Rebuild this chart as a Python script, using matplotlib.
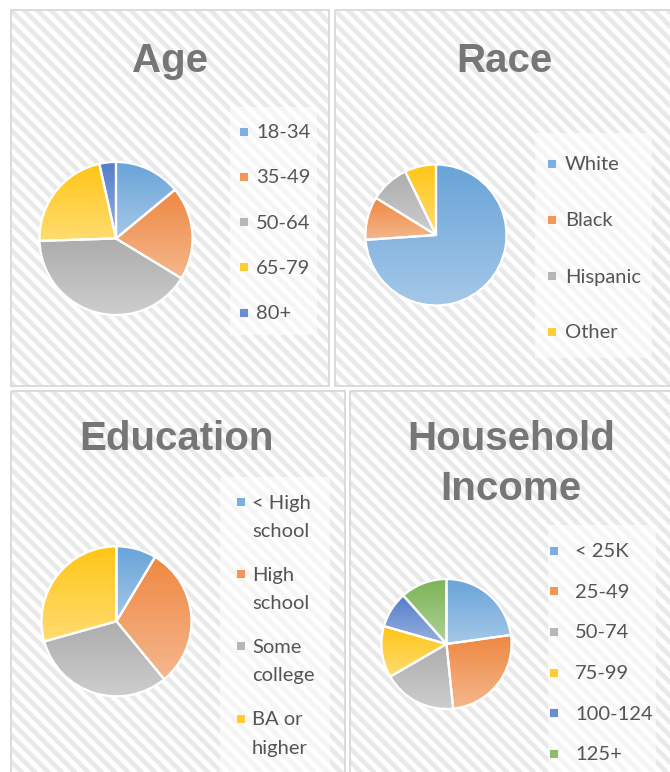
import numpy as np
import matplotlib
matplotlib.use('Agg')
import matplotlib.pyplot as plt
from matplotlib.patches import Rectangle
from matplotlib.colors import LinearSegmentedColormap, to_rgb

# data (percent)
age_labels = ["18-34", "35-49", "50-64", "65-79", "80+"]
age_values = [14, 19.7, 40.8, 22, 3.5]

race_labels = ["White", "Black", "Hispanic", "Other"]
race_values = [73.9, 9.9, 9.0, 7.2]

edu_labels = ["< High\nschool", "High\nschool", "Some\ncollege", "BA or\nhigher"]
edu_values = [8.6, 30.4, 31.6, 29.3]

inc_labels = ["< 25K", "25-49", "50-74", "75-99", "100-124", "125+"]
inc_values = [22.8, 25.6, 18.3, 12.8, 9.0, 11.6]

office = ["#5B9BD5", "#ED7D31", "#A5A5A5", "#FFC000", "#4472C4", "#70AD47"]

W, H = 670, 772
fig = plt.figure(figsize=(W / 100, H / 100), dpi=100)
fig.patch.set_facecolor('white')

# background axes in pixel coordinates
bg = fig.add_axes([0, 0, 1, 1])
bg.set_xlim(0, W)
bg.set_ylim(H, 0)
bg.axis('off')


def mix(c, t):
    r = np.array(to_rgb(c))
    return tuple(r + (1 - r) * t)


def panel(x0, y0, x1, y1):
    clip = Rectangle((x0, y0), x1 - x0, y1 - y0, facecolor='white',
                     edgecolor='none', zorder=0)
    bg.add_patch(clip)
    h = y1 - y0
    for xs in np.arange(x0 - h - 20, x1 + 20, 13.3):
        ln, = bg.plot([xs, xs + h + 20], [y0 - 10, y1 + 10], color='#e9e9e9',
                      lw=3.4, solid_capstyle='butt', zorder=1)
        ln.set_clip_path(clip)
    bg.add_patch(Rectangle((x0, y0), x1 - x0, y1 - y0, facecolor='none',
                           edgecolor='#d9d9d9', lw=1.3, zorder=3))


def legend_box(x0, y0, x1, y1):
    bg.add_patch(Rectangle((x0, y0), x1 - x0, y1 - y0, facecolor='white',
                           edgecolor='none', alpha=0.55, zorder=2))


def draw_pie(cx, cy, r, values):
    R = r * 1.04
    ax = fig.add_axes([(cx - R) / W, 1 - (cy + R) / H, 2 * R / W, 2 * R / H])
    wedges, _ = ax.pie(values, startangle=90, counterclock=False, radius=1,
                       colors=office[:len(values)],
                       wedgeprops=dict(edgecolor='white', linewidth=1.6))
    for w, c in zip(wedges, office):
        ext = w.get_path().get_extents()
        cmap = LinearSegmentedColormap.from_list('g', [mix(c, 0.08), mix(c, 0.45)])
        grad = np.linspace(0, 1, 256).reshape(-1, 1)
        im = ax.imshow(grad, cmap=cmap, extent=[ext.x0, ext.x1, ext.y0, ext.y1],
                       origin='upper', aspect='auto', zorder=w.get_zorder() - 0.1)
        im.set_clip_path(w)
        w.set_facecolor('none')
    ax.set_xlim(-1.04, 1.04)
    ax.set_ylim(-1.04, 1.04)
    ax.set_aspect('equal')
    ax.axis('off')


def legend_items(labels, mx, tx, base0, step, line_gap=28.5):
    for i, lab in enumerate(labels):
        b = base0 + i * step
        c = office[i]
        bg.add_patch(Rectangle((mx - 4.5, b - 7 - 4.5), 9, 9, facecolor=mix(c, 0.2),
                               edgecolor='white', lw=0.6, zorder=4))
        for j, line in enumerate(lab.split('\n')):
            bg.text(tx, b + j * line_gap, line, ha='left', va='baseline',
                    fontsize=14.5, family='Lato', color='#555555', zorder=5)


def title(x, y, s):
    bg.text(x, y, s, ha='center', va='baseline', fontsize=29,
            family='Liberation Sans', fontweight='bold', color='#767676', zorder=5)


# panels
panel(11, 10, 329, 386)
panel(335, 10, 675, 386)
panel(11, 391, 345, 778)
panel(350, 391, 675, 778)

# legend backgrounds
legend_box(230, 107, 317, 335)
legend_box(535, 133, 652, 358)
legend_box(220, 477, 330, 775)
legend_box(548, 525, 656, 775)

title(170, 72, "Age")
title(504, 72, "Race")
title(177, 450, "Education")
title(511, 450, "Household")
title(511, 500, "Income")

legend_items(age_labels, 243.5, 256, 138, 45.3)
legend_items(race_labels, 551, 565, 170.5, 56)
legend_items(edu_labels, 240, 252, 508.5, 72.2)
legend_items(inc_labels, 553.5, 575, 557, 40.7)

draw_pie(116, 238.5, 76.5, age_values)
draw_pie(436, 235, 70.5, race_values)
draw_pie(116.5, 621.3, 75, edu_values)
draw_pie(446.5, 644, 65, inc_values)

fig.savefig('out.png', dpi=100, facecolor='white')
